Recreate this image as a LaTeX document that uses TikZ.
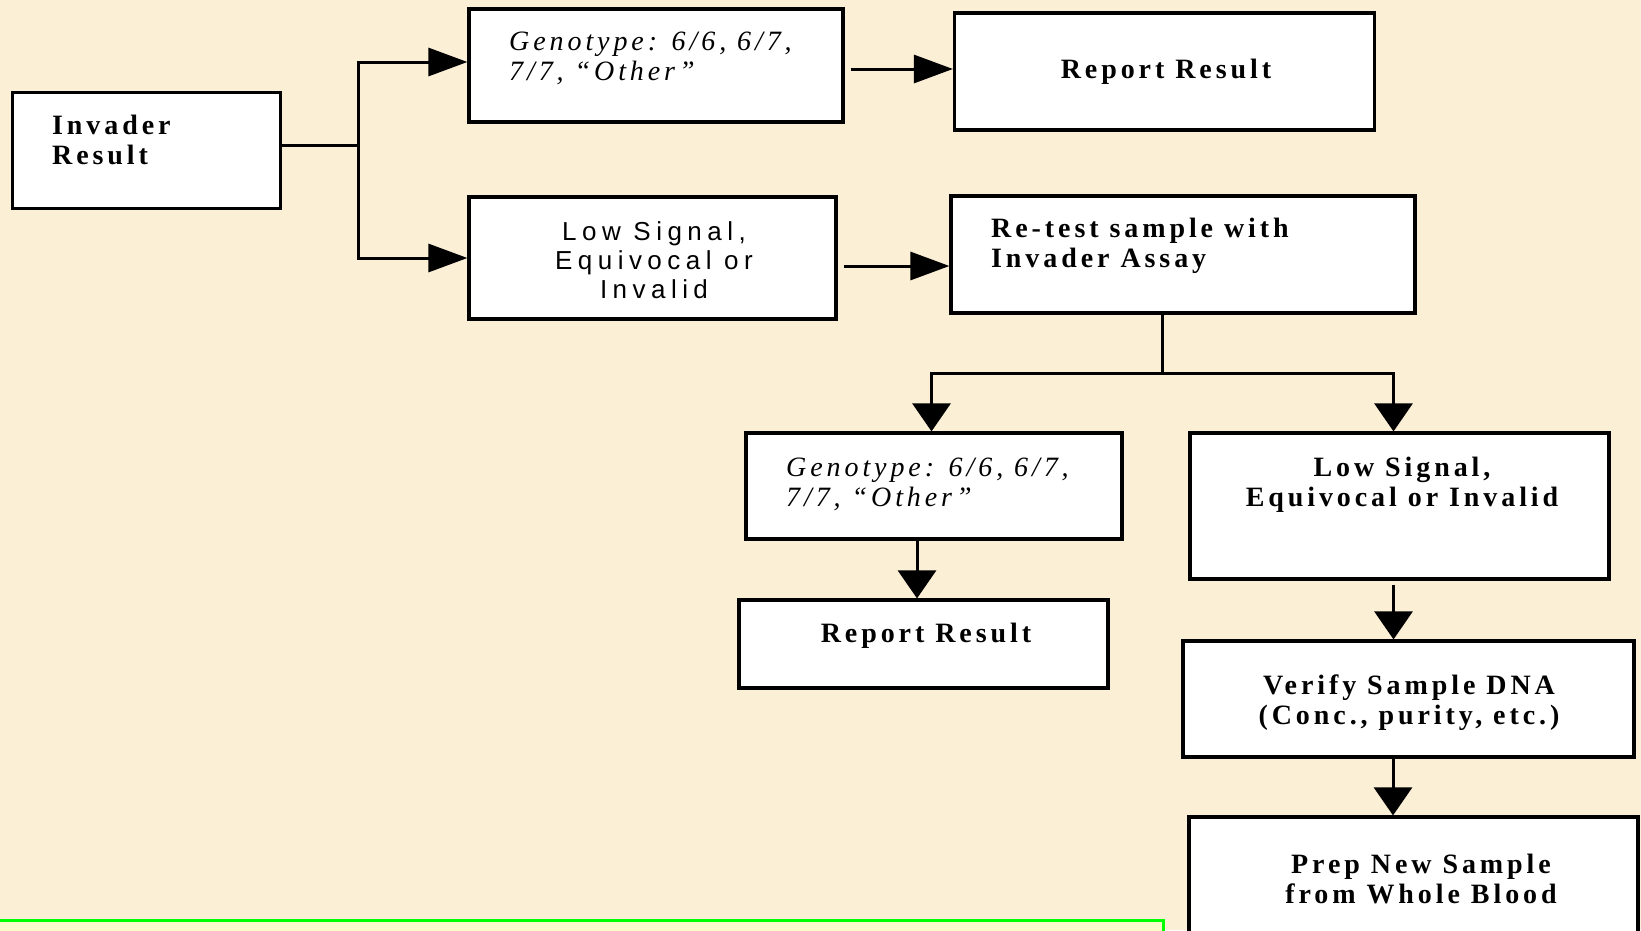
\documentclass[tikz,border=0pt]{standalone}
\usepackage{fontspec}
\setmainfont{Liberation Serif}[LetterSpace=14]
\newfontfamily\boxsans{Liberation Sans}[LetterSpace=21]
\usetikzlibrary{arrows.meta}
\definecolor{bgcol}{RGB}{251,239,214}
\definecolor{greenline}{RGB}{0,255,0}
\definecolor{paleyellow}{RGB}{250,250,202}
\begin{document}
\begin{tikzpicture}[x=1pt,y=-1pt,
  box/.style={draw=black, line width=3.2pt, fill=white, inner sep=0pt},
  lbl/.style={inner sep=0pt, font=\fontsize{28}{30}\selectfont\bfseries, align=left},
  clbl/.style={inner sep=0pt, font=\fontsize{28}{30}\selectfont\bfseries, align=center},
  ilbl/.style={inner sep=0pt, font=\fontsize{28}{30}\selectfont\itshape, align=left},
  slbl/.style={inner sep=0pt, font=\fontsize{26}{29}\selectfont\boxsans, align=center},
  conn/.style={draw=black, line width=3pt},
  harrow/.style={conn, -{Triangle[length=39pt,width=28pt]}},
  varrow/.style={conn, -{Triangle[length=28pt,width=38pt]}}]
\useasboundingbox (0,0) rectangle (1641,930);
\clip (0,0) rectangle (1641,930);
\fill[bgcol] (0,0) rectangle (1641,930);
\draw[greenline, line width=3pt, fill=paleyellow] (-10,920) rectangle (1163,950);

% boxes
\node[box, minimum width=268pt, minimum height=116pt] (inv) at (146.5,150.5) {};
\node[box, minimum width=374pt, minimum height=113pt] (geno1) at (656,65.5) {};
\node[box, minimum width=420pt, minimum height=117pt] (rep1) at (1164.5,71.5) {};
\node[box, minimum width=367pt, minimum height=122pt] (low1) at (652.5,258) {};
\node[box, minimum width=464pt, minimum height=117pt] (retest) at (1183,254.5) {};
\node[box, minimum width=376pt, minimum height=106pt] (geno2) at (934,486) {};
\node[box, minimum width=419pt, minimum height=146pt] (low2) at (1399.5,506) {};
\node[box, minimum width=369pt, minimum height=88pt] (rep2) at (923.5,644) {};
\node[box, minimum width=451pt, minimum height=116pt] (verify) at (1408.5,699) {};
\node[box, minimum width=449pt, minimum height=143pt] (prep) at (1413.5,888.5) {};

% texts (base anchor = baseline of last line)
\node[lbl, anchor=base west] (invT) at (52,164) {Invader\\Result};
\node[ilbl, anchor=base west] (geno1T) at (509,80) {Genotype: 6/6, 6/7,\\7/7, “Other”};
\node[clbl, anchor=base] (rep1T) at (1166,78) {Report Result};
\node[slbl, anchor=base] (low1T) at (654,298) {Low Signal,\\Equivocal or\\Invalid};
\node[lbl, anchor=base west] (retestT) at (991,267) {Re-test sample with\\Invader Assay};
\node[ilbl, anchor=base west] (geno2T) at (786,506) {Genotype: 6/6, 6/7,\\7/7, “Other”};
\node[clbl, anchor=base] (low2T) at (1402,506) {Low Signal,\\Equivocal or Invalid};
\node[clbl, anchor=base] (rep2T) at (926,642) {Report Result};
\node[clbl, anchor=base] (verifyT) at (1409,724) {Verify Sample DNA\\(Conc., purity, etc.)};
\node[clbl, anchor=base] (prepT) at (1421,903) {Prep New Sample\\from Whole Blood};

% connectors
\coordinate (j1) at (358,145);
\draw[conn] ([yshift=5.5pt]inv.east) -- (j1);
\draw[harrow] (j1) |- ([yshift=3.5pt]geno1.west);
\draw[harrow] (j1) |- (low1.west);

\coordinate (g1e) at ([xshift=6pt,yshift=-3.5pt]geno1.east);
\draw[harrow] (g1e) -- (g1e -| rep1.west);
\coordinate (l1e) at ([xshift=6pt,yshift=-8pt]low1.east);
\draw[harrow] (l1e) -- (l1e -| retest.west);

\coordinate (j2) at (1162,373);
\draw[conn] ([xshift=-21pt]retest.south) -- (j2);
\draw[varrow] (j2) -| ([xshift=-2.5pt]geno2.north);
\draw[varrow] (j2) -| ([xshift=-6pt]low2.north);

\coordinate (g2s) at ([xshift=-17pt]geno2.south);
\draw[varrow] (g2s) -- (g2s |- rep2.north);
\coordinate (l2s) at ([xshift=-6pt,yshift=-4pt]low2.south);
\draw[varrow] (l2s) -- (l2s |- verify.north);
\coordinate (vs) at ([xshift=-15.5pt]verify.south);
\draw[varrow] (vs) -- (vs |- prep.north);
\end{tikzpicture}
\end{document}
